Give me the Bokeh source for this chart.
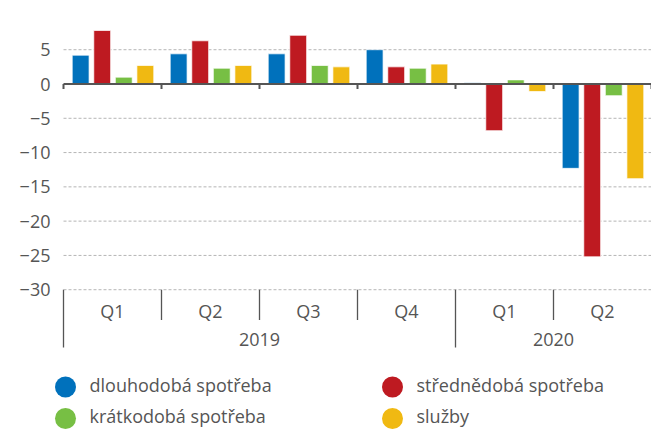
from bokeh.plotting import figure
from bokeh.models import Range1d, FixedTicker, ColumnDataSource
from bokeh.core.properties import value
from bokeh.embed import file_html
from bokeh.resources import INLINE

# ---- data ----
years = ["2019", "2020"]
quarters = ["Q1", "Q2", "Q3", "Q4", "Q1", "Q2"]
quarter_year = ["2019", "2019", "2019", "2019", "2020", "2020"]
series_names = ["dlouhodobá spotřeba", "střednědobá spotřeba", "krátkodobá spotřeba", "služby"]
dlouhodoba = [4.2, 4.4, 4.4, 5.0, 0.2, -12.3]
strednedoba = [7.8, 6.3, 7.1, 2.5, -6.8, -25.2]
kratkodoba = [1.0, 2.3, 2.7, 2.3, 0.6, -1.7]
sluzby = [2.7, 2.7, 2.5, 2.9, -1.1, -13.8]
y_ticks = [-30, -25, -20, -15, -10, -5, 0, 5]

series_values = [dlouhodoba, strednedoba, kratkodoba, sluzby]
colors = ["#0071bc", "#be1a21", "#77bf44", "#f0b912"]
offsets = [-0.325, -0.105, 0.115, 0.335]

FONT = "Open Sans"
TXT = "#555555"
AX = "#555555"

n = len(quarters)
xc = [i + 0.5 for i in range(n)]

# pixel helpers for layout (frame covers whole figure height)
PX_PER_X = 98.0
PX_PER_Y = 6.857
Y0_PX = 83.5
X0_PX = 63.0
FRAME_LEFT = 53
W, H = 651, 430


def yv(py):
    return (Y0_PX - py) / PX_PER_Y


def xv(px):
    return (px - X0_PX) / PX_PER_X


p = figure(width=W, height=H, output_backend="svg", toolbar_location=None,
           title=None, x_axis_location=None,
           x_range=Range1d(xv(FRAME_LEFT), xv(W)), y_range=Range1d(yv(H), yv(0)),
           min_border_left=FRAME_LEFT, min_border_right=0, min_border_top=0, min_border_bottom=0)
p.outline_line_color = None
p.grid.visible = False

yax = p.yaxis[0]
yax.ticker = FixedTicker(ticks=y_ticks)
yax.major_label_overrides = {t: (str(t).replace("-", "\u2212")) for t in y_ticks}
yax.axis_line_color = None
yax.major_tick_line_color = None
yax.major_tick_out = 0
yax.major_tick_in = 0
yax.minor_tick_line_color = None
yax.minor_tick_out = 0
yax.major_label_text_font = FONT
yax.major_label_text_font_size = "18px"
yax.major_label_text_color = TXT
yax.major_label_standoff = 3

# dotted gridlines
gt = [t for t in y_ticks if t != 0]
p.segment(x0=[0] * len(gt), y0=gt, x1=[n] * len(gt), y1=gt,
          line_color="#b5b5b5", line_dash="3 2", line_width=1)

# bars
for vals, col, off in zip(series_values, colors, offsets):
    src = ColumnDataSource(dict(x=[x + off for x in xc], top=vals))
    p.vbar(x="x", top="top", bottom=0, width=0.172, source=src,
           fill_color=col, line_color="white", line_alpha=0.7, line_width=1)

# zero axis line with small ticks at quarter boundaries
p.segment(x0=[0], y0=[0], x1=[n], y1=[0], line_color=AX, line_width=2)
bounds = list(range(n + 1))
p.segment(x0=bounds, y0=[0] * len(bounds), x1=bounds, y1=[yv(Y0_PX + 5)] * len(bounds),
          line_color=AX, line_width=2)

# category axis at bottom: separators
year_bounds = [0]
for i in range(1, n):
    if quarter_year[i] != quarter_year[i - 1]:
        year_bounds.append(i)
q_bounds = [i for i in range(1, n) if i not in year_bounds]
p.segment(x0=q_bounds, y0=[-30] * len(q_bounds), x1=q_bounds, y1=[yv(319.5)] * len(q_bounds),
          line_color=AX, line_width=1.3)
p.segment(x0=year_bounds, y0=[-30] * len(year_bounds), x1=year_bounds,
          y1=[yv(347)] * len(year_bounds), line_color=AX, line_width=1.3)

# quarter labels
p.text(x=xc, y=[yv(310)] * n, text=quarters, text_align="center", text_baseline="middle",
       text_font=value(FONT), text_font_size="18px", text_color=TXT)
# year labels
year_centers = []
for yname in years:
    idx = [i for i in range(n) if quarter_year[i] == yname]
    year_centers.append((min(idx) + max(idx) + 1) / 2)
p.text(x=year_centers, y=[yv(339)] * len(years), text=years, text_align="center",
       text_baseline="middle", text_font=value(FONT), text_font_size="18px", text_color=TXT)

# legend (2 x 2)
leg_px = [65, 392, 65, 392]
leg_py = [386.5, 386.5, 418, 418]
p.scatter(x=[xv(v) for v in leg_px], y=[yv(v) for v in leg_py], size=21, marker="circle",
          fill_color=colors, line_color=None)
p.text(x=[xv(v + 24) for v in leg_px], y=[yv(v - 2.5) for v in leg_py], text=series_names,
       text_baseline="middle", text_font=value(FONT), text_font_size="18px", text_color=TXT)

open("out.html", "w").write(file_html(p, INLINE))
